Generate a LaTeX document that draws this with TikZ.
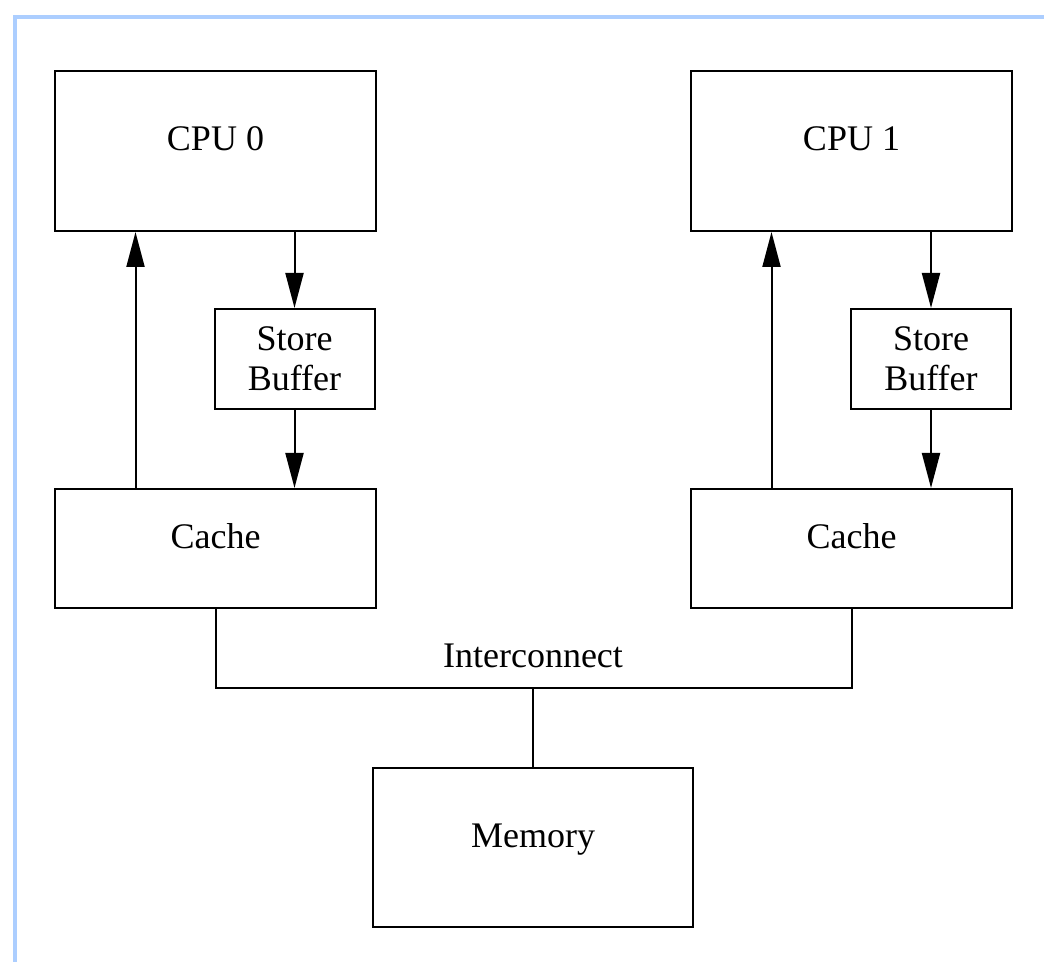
\documentclass[tikz,border=0pt]{standalone}
\usepackage{fontspec}
\setmainfont{Liberation Serif}
\usetikzlibrary{arrows.meta}
\definecolor{framecol}{RGB}{172,206,255}
\tikzset{
  cpubox/.style={draw, line width=1pt, inner sep=0pt, minimum width=160.5pt, text height=40pt, text depth=40pt},
  cachebox/.style={draw, line width=1pt, inner sep=0pt, minimum width=160.5pt, text height=29.75pt, text depth=29.75pt},
  membox/.style={draw, line width=1pt, inner sep=0pt, minimum width=160pt, text height=39.75pt, text depth=39.75pt},
  sbbox/.style={draw, line width=1pt, inner sep=0pt, minimum width=80pt, minimum height=50pt, align=center},
  flow/.style={line width=1pt, -{Triangle[length=17.5pt, width=9pt]}},
  wire/.style={line width=1pt}
}
\begin{document}
\begin{tikzpicture}[x=0.5pt, y=-0.5pt, font=\fontsize{18pt}{20pt}\selectfont]
	  \useasboundingbox (0,0) rectangle (1044,962);
	  %\fill[white] (0,0) rectangle (1044,962);
	  \draw[framecol, line width=2pt] (15,962) -- (15,17) -- (1044,17);
	  \node[cpubox] (cpu0) at (215.5,151) {CPU 0};
	  \node[sbbox] (sb0) at (294.5,359) {Store\\Buffer};
	  \node[cachebox] (cache0) at (215.5,548.5) {Cache};
	  \node[cpubox] (cpu1) at (851.5,151) {CPU 1};
	  \node[sbbox] (sb1) at (931,359) {Store\\Buffer};
	  \node[cachebox] (cache1) at (851.5,548.5) {Cache};
	  \node[membox] (mem) at (533,847.5) {Memory};
	  \coordinate (bus) at (533,688);
	  \node[anchor=base, inner sep=0pt] (ic) at (533,667) {Interconnect};
	  \draw[flow] (sb0.north |- cpu0.south) -- (sb0.north);
	  \draw[flow] (sb0.south) -- (sb0.south |- cache0.north);
	  \draw[flow] ([xshift=-40pt]cache0.north) -- ([xshift=-40pt]cpu0.south);
	  \draw[flow] (sb1.north |- cpu1.south) -- (sb1.north);
	  \draw[flow] (sb1.south) -- (sb1.south |- cache1.north);
	  \draw[flow] ([xshift=-40pt]cache1.north) -- ([xshift=-40pt]cpu1.south);
	  \draw[wire] (cache0.south) |- (bus) -| (cache1.south);
	  \draw[wire] (bus) -- (mem.north);
	\end{tikzpicture}
\end{document}
